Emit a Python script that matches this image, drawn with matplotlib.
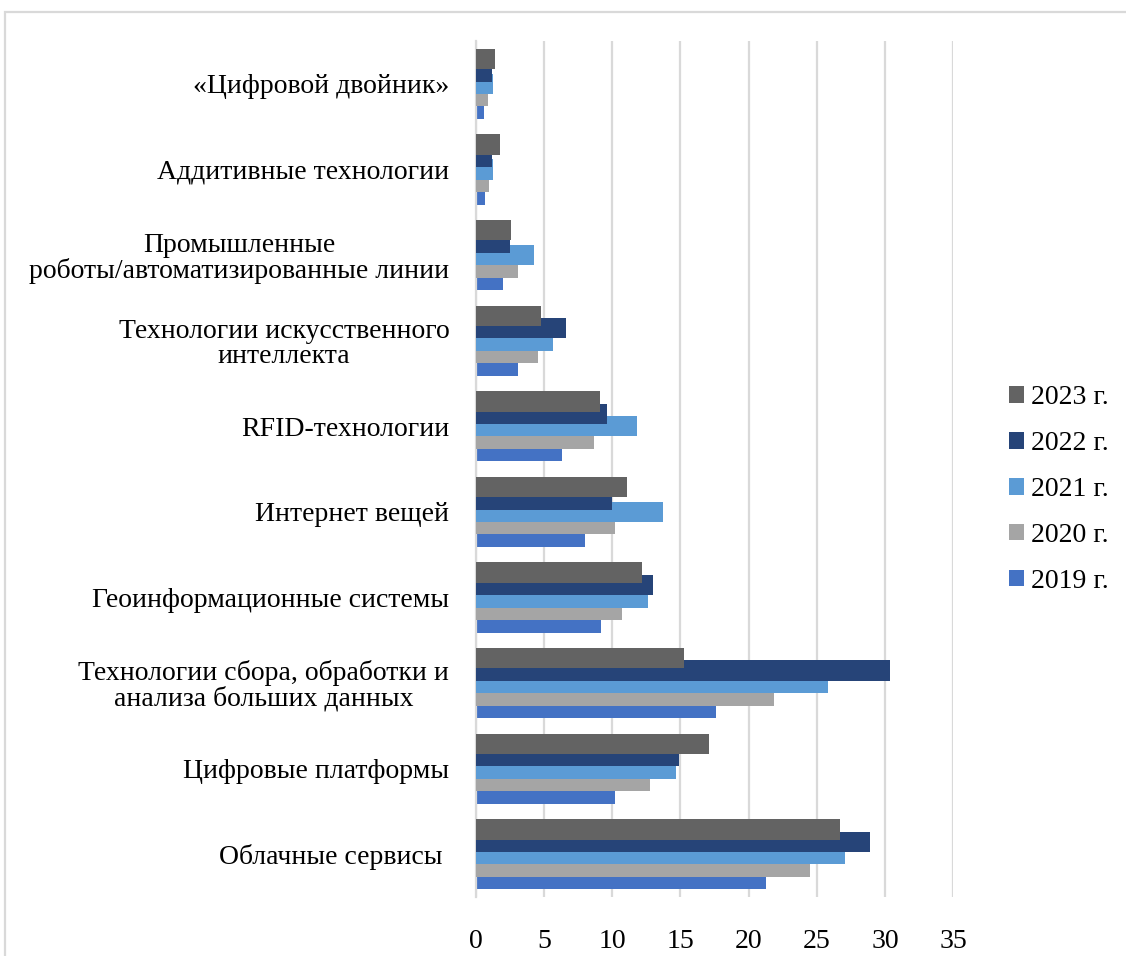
import numpy as np
import matplotlib.pyplot as plt
from matplotlib.patches import Rectangle

plt.rcParams['font.family'] = ['Liberation Serif', 'DejaVu Serif']

# Categories from bottom to top
categories = [
    "Облачные сервисы ",
    "Цифровые платформы",
    "Технологии сбора, обработки и\nанализа больших данных",
    "Геоинформационные системы",
    "Интернет вещей",
    "RFID-технологии",
    "Технологии искусственного\nинтеллекта",
    "Промышленные\nроботы/автоматизированные линии",
    "Аддитивные технологии",
    "«Цифровой двойник»",
]

years = ["2019 г.", "2020 г.", "2021 г.", "2022 г.", "2023 г."]

v2019 = [21.3, 10.2, 17.6, 9.2, 8.0, 6.3, 3.1, 2.0, 0.7, 0.6]
v2020 = [24.5, 12.8, 21.9, 10.7, 10.2, 8.7, 4.6, 3.1, 1.0, 0.9]
v2021 = [27.1, 14.7, 25.8, 12.6, 13.7, 11.8, 5.7, 4.3, 1.3, 1.3]
v2022 = [28.9, 14.9, 30.4, 13.0, 10.0, 9.6, 6.6, 2.5, 1.2, 1.2]
v2023 = [26.7, 17.1, 15.3, 12.2, 11.1, 9.1, 4.8, 2.6, 1.8, 1.4]

series = [v2019, v2020, v2021, v2022, v2023]
colors = ["#4472C4", "#A5A5A5", "#5B9BD5", "#264478", "#636363"]

fig = plt.figure(figsize=(11.26, 9.56), dpi=100)
ax = fig.add_axes([0.4225, 0.0617, 0.424, 0.8954])

y = np.arange(len(categories))
step = 0.145
bar_h = 0.24
handles = []
for i, (vals, col, lab) in enumerate(zip(series, colors, years)):
    b = ax.barh(y + (i - 2) * step, vals, height=bar_h, color=col,
                label=lab, zorder=2 + i)
    handles.append(b)

ax.set_xlim(0, 35)
ax.set_ylim(-0.5, len(categories) - 0.5)
ax.set_xticks(np.arange(0, 36, 5))
ax.set_yticks(y)
ax.set_yticklabels(categories, multialignment='center', linespacing=1.0)
ax.tick_params(axis='x', length=0, pad=23, labelsize=20)
ax.tick_params(axis='y', length=0, pad=19, labelsize=20)
ax.xaxis.grid(True, color="#D9D9D9", linewidth=1.6, zorder=0)
ax.set_axisbelow(True)
for s in ['top', 'right', 'bottom']:
    ax.spines[s].set_visible(False)
ax.spines['left'].set_color("#D9D9D9")
ax.spines['left'].set_linewidth(1.6)

ax.legend(handles[::-1], years[::-1], loc='center left',
          bbox_to_anchor=(1.093, 0.476), frameon=False, fontsize=20,
          handlelength=0.55, handleheight=0.55, handletextpad=0.25,
          labelspacing=0.75, borderaxespad=0)

# light frame around the chart area
fig.patches.append(Rectangle((5 / 1126, -0.05), 1.1, 1 - 12 / 956 + 0.05,
                             transform=fig.transFigure, fill=False,
                             edgecolor="#D9D9D9", linewidth=1.6))

fig.savefig("out.png", dpi=100)
